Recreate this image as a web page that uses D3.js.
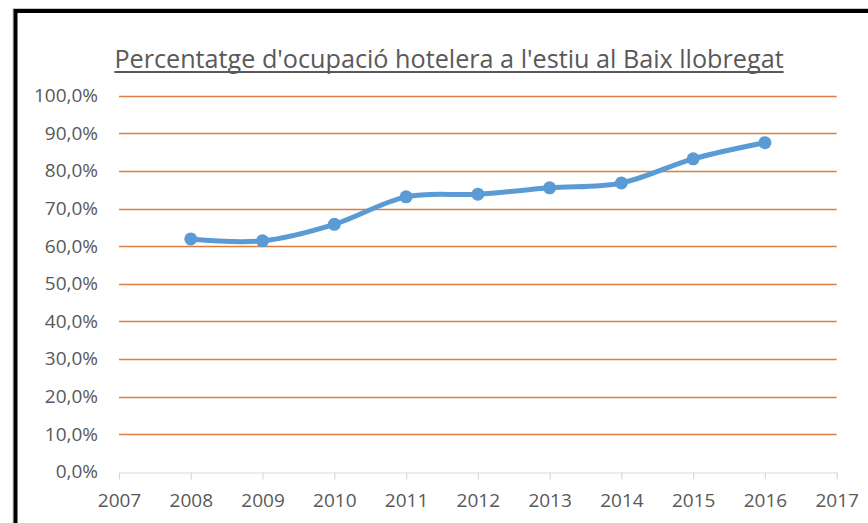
<!DOCTYPE html>
<html><head><meta charset="utf-8">
<script src="https://cdn.jsdelivr.net/npm/d3@7"></script>
<style>html,body{margin:0;padding:0;background:#fff;}svg{display:block;}</style>
</head><body>
<svg id="c" width="868" height="523"></svg>
<script>
const title = "Percentatge d'ocupació hotelera a l'estiu al Baix llobregat";
const years = [2008, 2009, 2010, 2011, 2012, 2013, 2014, 2015, 2016];
const occupancy = [0.619, 0.614, 0.658, 0.731, 0.738, 0.755, 0.768, 0.832, 0.875];
const xTicks = [2007, 2008, 2009, 2010, 2011, 2012, 2013, 2014, 2015, 2016, 2017];
const yTicks = [0, 0.1, 0.2, 0.3, 0.4, 0.5, 0.6, 0.7, 0.8, 0.9, 1.0];

const svg = d3.select("#c");
const font = "'Open Sans', sans-serif";
const textCol = "#595959";

// frame
svg.append("rect").attr("x", 13).attr("y", 8.5).attr("width", 900).attr("height", 600)
  .attr("fill", "none").attr("stroke", "#c8c8c8").attr("stroke-width", 1);
svg.append("rect").attr("x", 15.5).attr("y", 11).attr("width", 900).attr("height", 600)
  .attr("fill", "#fff").attr("stroke", "#000").attr("stroke-width", 4);

const x = d3.scaleLinear().domain([2007, 2017]).range([119, 836.7]);
const y = d3.scaleLinear().domain([0, 1]).range([471.7, 95.7]);

// gridlines
svg.append("g").selectAll("line").data(yTicks.filter(d => d > 0)).join("line")
  .attr("x1", x(2007)).attr("x2", x(2017))
  .attr("y1", d => Math.round(y(d)) + 0.5).attr("y2", d => Math.round(y(d)) + 0.5)
  .attr("stroke", "#DC7E42").attr("stroke-width", 1.3);

// x axis
const xAxis = svg.append("g").attr("transform", `translate(0,${Math.round(y(0)) + 0.5})`)
  .call(d3.axisBottom(x).tickValues(xTicks).tickFormat(d3.format("d")).tickSize(7).tickSizeOuter(0).tickPadding(14));
xAxis.select(".domain").attr("stroke", "#d9d9d9").attr("stroke-width", 1.2);
xAxis.selectAll(".tick line").attr("stroke", "#d9d9d9").attr("stroke-width", 1.2);
xAxis.selectAll("text").attr("fill", textCol).style("font-family", font).style("font-size", "19px");

// y axis labels
const fmtPct = v => d3.format(".1f")(v * 100).replace(".", ",") + "%";
const yAxis = svg.append("g").attr("transform", `translate(${x(2007)},0)`)
  .call(d3.axisLeft(y).tickValues(yTicks).tickFormat(fmtPct).tickSize(0).tickPadding(21));
yAxis.select(".domain").remove();
yAxis.selectAll("text").attr("fill", textCol).style("font-family", font).style("font-size", "19px");

// title
const t = svg.append("text").attr("x", 449).attr("y", 67.5).attr("text-anchor", "middle")
  .attr("fill", textCol).style("font-family", font).style("font-size", "25.2px").text(title);
const bb = t.node().getBBox();
svg.append("line").attr("x1", bb.x).attr("x2", bb.x + bb.width).attr("y1", 72).attr("y2", 72)
  .attr("stroke", textCol).attr("stroke-width", 1.8);

// line
const pts = years.map((d, i) => [d, occupancy[i]]);
svg.append("path").datum(pts)
  .attr("d", d3.line().x(d => x(d[0])).y(d => y(d[1])).curve(d3.curveCardinal.tension(0)))
  .attr("fill", "none").attr("stroke", "#5B9BD5").attr("stroke-width", 5).attr("stroke-linecap", "round");
svg.append("g").selectAll("circle").data(pts).join("circle")
  .attr("cx", d => x(d[0])).attr("cy", d => y(d[1])).attr("r", 6.5)
  .attr("fill", "#5B9BD5");
</script>
</body></html>
